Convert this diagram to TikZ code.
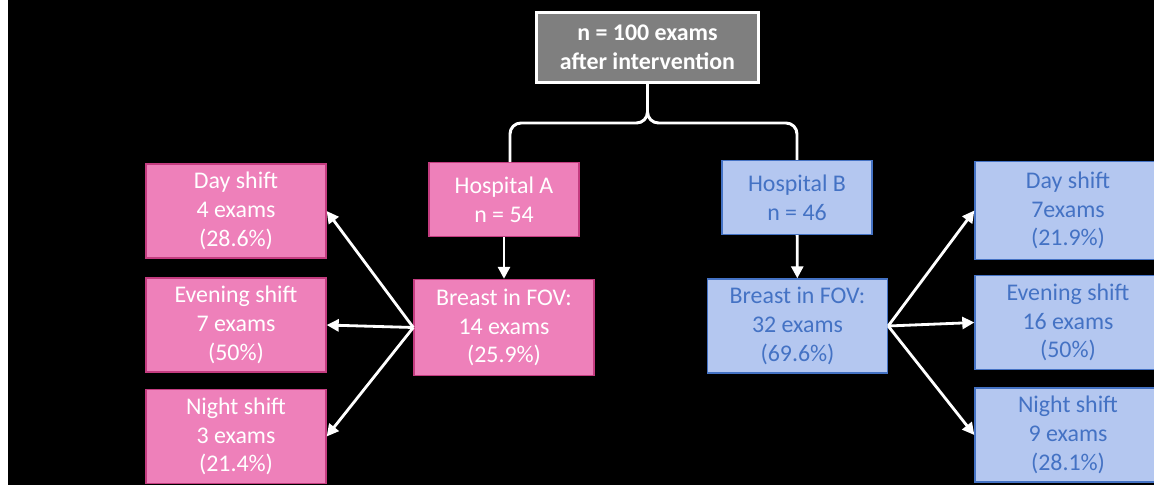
\documentclass[tikz,border=0pt]{standalone}
\usepackage{fontspec}
\setmainfont{Carlito}
\usetikzlibrary{arrows.meta,positioning}
\definecolor{TotalGray}{RGB}{127,127,127}
\definecolor{SoftPink}{RGB}{238,128,186}
\definecolor{PinkEdge}{RGB}{196,60,128}
\definecolor{SoftBlue}{RGB}{180,199,240}
\definecolor{BlueEdge}{RGB}{68,114,196}
\tikzset{
  total/.style={draw=white,fill=TotalGray,line width=1.7pt,text=white,
    font=\fontsize{13.6}{16.4}\selectfont\bfseries,align=center,
    minimum width=4.43cm,minimum height=1.41cm,inner sep=0pt},
  pinkbox/.style={draw=PinkEdge,fill=SoftPink,thick,text=white,
    font=\fontsize{13.6}{16.4}\selectfont,align=center,inner sep=0pt},
  bluebox/.style={draw=BlueEdge,fill=SoftBlue,thick,text=BlueEdge,
    font=\fontsize{13.6}{16.4}\selectfont,align=center,inner sep=0pt},
  hospbox/.style={minimum width=3cm,minimum height=1.48cm},
  fovbox/.style={minimum width=3.6cm,minimum height=1.92cm},
  shiftbox/.style={minimum width=3.6cm,minimum height=1.88cm},
  arrow/.style={-{Triangle[length=0.24cm,width=0.24cm]},white,line width=1.6pt},
  brace/.style={white,line width=1.7pt,rounded corners=0.22cm}
}
\begin{document}
\begin{tikzpicture}[x=0.02cm,y=-0.02cm]
  \clip (0,0) rectangle (1154,487);
  \fill[black] (8,0) rectangle (1154,485);
  % top
  \node[total] (total) at (647.5,47.5) {n = 100 exams\\after intervention};
  % hospital A
  \node[pinkbox,hospbox] (hospA) at (504,199.5) {Hospital A\\n = 54};
  \node[pinkbox,fovbox] (fovA) at (504,327.5) {Breast in FOV:\\14 exams\\(25.9\%)};
  \node[pinkbox,shiftbox] (dayA) at (236,211) {Day shift\\4 exams\\(28.6\%)};
  \node[pinkbox,shiftbox] (eveA) at (236,325) {Evening shift\\7 exams\\(50\%)};
  \node[pinkbox,shiftbox] (nightA) at (236,436.5) {Night shift\\3 exams\\(21.4\%)};
  % hospital B
  \node[bluebox,hospbox] (hospB) at (797,197.5) {Hospital B\\n = 46};
  \node[bluebox,fovbox,minimum height=1.88cm] (fovB) at (797.5,326) {Breast in FOV:\\32 exams\\(69.6\%)};
  \node[bluebox,shiftbox,minimum width=3.72cm,minimum height=1.96cm] (dayB) at (1068,210.5) {Day shift\\7exams\\(21.9\%)};
  \node[bluebox,shiftbox,minimum width=3.72cm] (eveB) at (1068,322.5) {Evening shift\\16 exams\\(50\%)};
  \node[bluebox,shiftbox,minimum width=3.72cm] (nightB) at (1068,435) {Night shift\\9 exams\\(28.1\%)};
  % brace
  \coordinate (split) at (647.5,123);
  \draw[brace] (total.south) |- (split -| 510,0) -- (510,162);
  \draw[brace] (total.south) |- (split -| hospB.north) -- (hospB.north);
  % arrows
  \draw[arrow] (hospA) -- (fovA);
  \draw[arrow] (hospB) -- (fovB);
  \draw[arrow] (fovA.west) -- (dayA.east);
  \draw[arrow] (fovA.west) -- (eveA.east);
  \draw[arrow] (fovA.west) -- (nightA.east);
  \draw[arrow] (fovB.east) -- (dayB.west);
  \draw[arrow] (fovB.east) -- (eveB.west);
  \draw[arrow] (fovB.east) -- (nightB.west);
\end{tikzpicture}
\end{document}
